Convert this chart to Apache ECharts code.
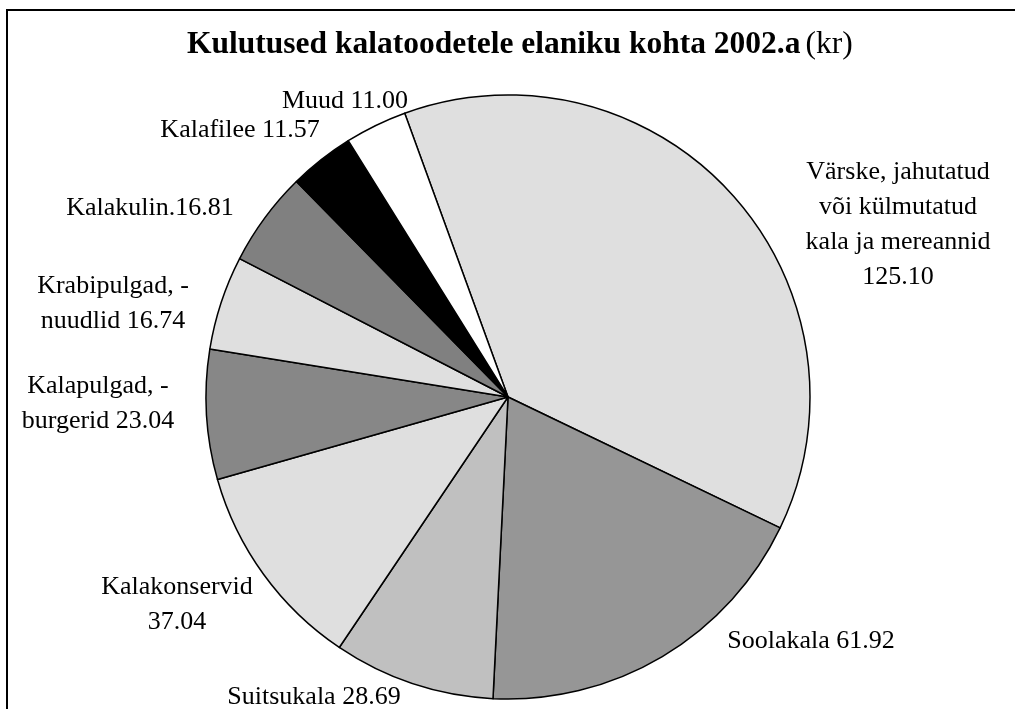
<!DOCTYPE html>
<html>
<head>
<meta charset="utf-8">
<script src="https://cdn.jsdelivr.net/npm/echarts@6/dist/echarts.min.js"></script>
<style>
	html, body { margin: 0; padding: 0; background: #fff; }
	#chart { width: 1015px; height: 709px; }
</style>
</head>
<body>
<div id="chart"></div>
<script>
	var categories = ['Värske, jahutatud\nvõi külmutatud\nkala ja mereannid', 'Soolakala', 'Suitsukala', 'Kalakonservid',
		'Kalapulgad, -\nburgerid', 'Krabipulgad, -\nnuudlid', 'Kalakulin.', 'Kalafilee', 'Muud'];
	var values = [125.10, 61.92, 28.69, 37.04, 23.04, 16.74, 16.81, 11.57, 11.00];
	var separators = ['\n', ' ', ' ', '\n', ' ', ' ', '', ' ', ' '];

	// look of the slices and where each label sits
	var sliceColors = ['#dfdfdf', '#969696', '#c0c0c0', '#dfdfdf', '#878787', '#dfdfdf', '#808080', '#000000', '#ffffff'];
	var labelSpots = [[898, 225], [811, 641], [314, 697], [177, 605], [98, 404], [113, 304], [150, 208], [240, 130], [345, 101]];

	var chart = echarts.init(document.getElementById('chart'));
	var pieData = [];
	for (var i = 0; i < values.length; i++) {
		pieData.push({ name: categories[i], value: values[i], itemStyle: { color: sliceColors[i] } });
	}

	var option = {
		backgroundColor: '#fff',
		animation: false,
		title: {
			text: '{b|Kulutused kalatoodetele elaniku kohta 2002.a} {n|(kr)}',
			left: 182,
			top: 24,
			textStyle: {
				rich: {
					b: { fontFamily: 'Liberation Serif', fontSize: 31.5, fontWeight: 'bold', color: '#000' },
					n: { fontFamily: 'Liberation Serif', fontSize: 31.5, fontWeight: 'normal', color: '#000' }
				}
			}
		},
		graphic: [{
			type: 'rect',
			shape: { x: 7, y: 10, width: 1100, height: 800 },
			style: { fill: 'none', stroke: '#000', lineWidth: 2 },
			silent: true
		}],
		series: [{
			type: 'pie',
			center: [508, 397],
			radius: 302,
			startAngle: 110,
			clockwise: true,
			data: pieData,
			itemStyle: { borderColor: '#000', borderWidth: 1.5 },
			label: {
				show: true,
				position: 'outside',
				fontFamily: 'Liberation Serif',
				fontSize: 26,
				lineHeight: 35,
				color: '#000',
				align: 'center',
				overflow: 'none',
				formatter: function (p) {
					return p.name + separators[p.dataIndex] + p.value.toFixed(2);
				}
			},
			labelLine: { show: false },
			labelLayout: function (params) {
				var s = labelSpots[params.dataIndex];
				return { x: s[0], y: s[1], align: 'center', verticalAlign: 'middle' };
			},
			emphasis: { disabled: true }
		}]
	};
	chart.setOption(option);
</script>
</body>
</html>
